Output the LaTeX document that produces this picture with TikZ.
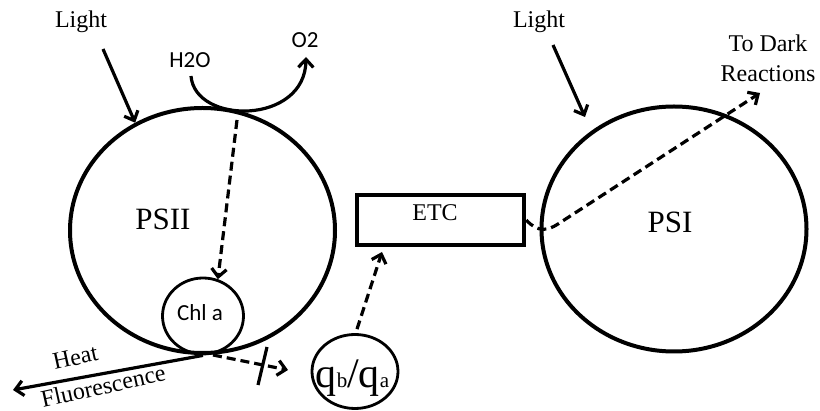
\documentclass[tikz,border=0pt]{standalone}
\usepackage{fontspec}
\setmainfont{Liberation Serif}
\newfontfamily\carl{Carlito}
\usetikzlibrary{shapes.geometric,arrows.meta}
\begin{document}
\begin{tikzpicture}[x=1pt,y=-1pt,
  big/.style={draw,ellipse,line width=4pt,minimum width=265pt,minimum height=245pt,inner sep=0pt},
  small/.style={draw,ellipse,line width=2.8pt,inner sep=0pt},
  lab/.style={font=\fontsize{24}{29}\selectfont,inner sep=0pt},
  sans/.style={font=\carl\fontsize{23}{26}\selectfont,inner sep=0pt},
  arr/.style={line width=3.2pt,-{Straight Barb[length=8pt,width=15pt,line width=3.2pt]}},
  darr/.style={arr,dash pattern=on 9pt off 5pt}]
\useasboundingbox (0,0) rectangle (820,411);
% main shapes
\node[big] (psii) at (202.5,230.5) {};
\node[big] (psi) at (674,229) {};
\node[small,minimum width=81pt,minimum height=76pt] (chl) at (203,316) {};
\node[small,minimum width=86pt,minimum height=74pt] (qbqa) at (355,371.5) {};
\node[draw,line width=4.5pt,minimum width=167pt,minimum height=50pt,inner sep=0pt] (etc) at (440.5,220) {};
% labels
\node[lab,anchor=base,font=\fontsize{31}{31}\selectfont] (psiit) at (163,230) {PSII};
\node[lab,anchor=base,font=\fontsize{31}{31}\selectfont] (psit) at (670,233) {PSI};
\node[lab,anchor=base] (etct) at (435,221) {ETC};
\node[sans,anchor=base] (chlt) at (200,321) {Chl a};
\node[anchor=base,inner sep=0pt] (qbt) at (352.5,388) {\fontsize{42}{42}\selectfont q\fontsize{21}{21}\selectfont b\fontsize{42}{42}\selectfont/q\fontsize{21}{21}\selectfont a};
\node[lab,anchor=base] (light1) at (81,28) {Light};
\node[lab,anchor=base] (light2) at (539,28) {Light};
\node[sans,anchor=base] (h2o) at (190,68) {H2O};
\node[sans,anchor=base] (o2) at (305,48) {O2};
\node[lab,anchor=base] (todark) at (768,52) {To Dark};
\node[lab,anchor=base] (react) at (768,82) {Reactions};
\node[lab,anchor=base,rotate=12.5] (heat) at (77,365) {Heat};
\node[lab,anchor=base,rotate=12.5] (fluo) at (105,394) {Fluorescence};
% coordinates
\coordinate (l1a) at (103,49);
\coordinate (l2a) at (553,45);
\coordinate (l2b) at (585,117);
\coordinate (h2oa) at (191,76);
\coordinate (o2b) at (306,57);
\coordinate (dtop) at (237,120);
\coordinate (heatend) at (13,390);
\coordinate (qs) at (213,355);
\coordinate (qe) at (288,370);
\coordinate (bar1) at (267,347);
\coordinate (bar2) at (258,385);
\coordinate (etcin) at (382,252);
\coordinate (dark) at (760,93);
% connectors
\draw[arr] (l1a) -- (psii.122);
\draw[arr] (l2a) -- (l2b);
\draw[arr] (h2oa) .. controls (195,125) and (305,125) .. (o2b);
\draw[darr] (dtop) -- (chl.68);
\draw[arr] (chl.south) -- (heatend);
\draw[darr] (qs) -- (qe);
\draw[line width=3.2pt] (bar1) -- (bar2);
\draw[darr] (qbqa.north) ++(2,-4) -- (etcin);
\draw[darr] (etc.east) .. controls (538,233) and (548,230.5) .. (558,224) -- (dark);
\end{tikzpicture}
\end{document}
